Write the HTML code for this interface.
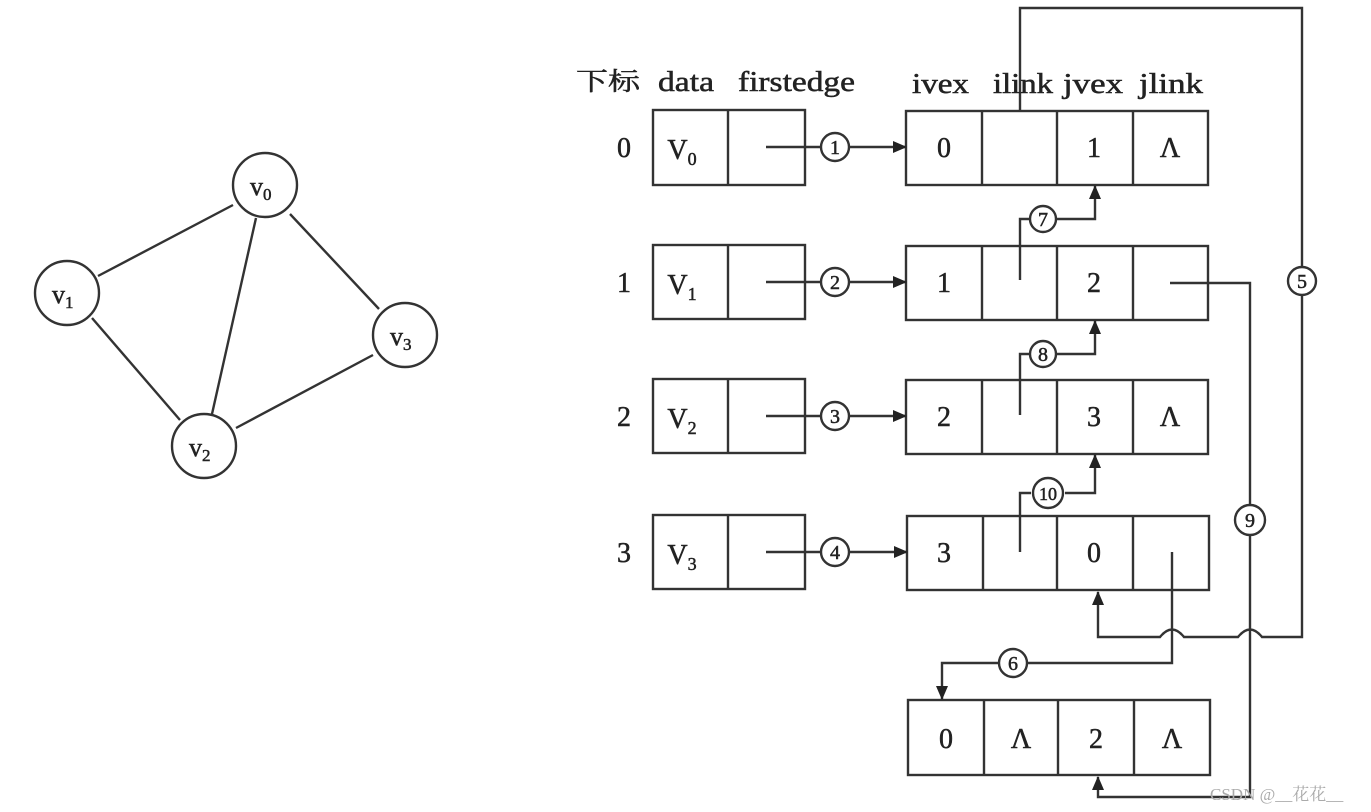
<!DOCTYPE html>
<html><head><meta charset="utf-8"><style>
html,body{margin:0;padding:0;background:#fff;}
svg{display:block;}
text{font-family:"Liberation Serif","Noto Serif CJK SC",serif;fill:#222;stroke:#222;stroke-width:0.5;}
</style></head><body>
<svg width="1371" height="812" viewBox="0 0 1371 812" xmlns="http://www.w3.org/2000/svg">
<defs>
<marker id="a" markerWidth="14" markerHeight="14" refX="13" refY="6" orient="auto" markerUnits="userSpaceOnUse" viewBox="0 0 14 12"><path d="M0,0 L14,6 L0,12z" fill="#222"/></marker>
</defs>
<g stroke="#333" stroke-width="2.4" fill="none">
<line x1="233" y1="205" x2="98" y2="276"/>
<line x1="256" y1="218" x2="212" y2="414"/>
<line x1="290" y1="214" x2="379" y2="309"/>
<line x1="92" y1="318" x2="180" y2="420"/>
<line x1="236" y1="428" x2="373" y2="355"/>
<circle cx="265" cy="185" r="32"/>
<circle cx="67" cy="293" r="32"/>
<circle cx="405" cy="335" r="32"/>
<circle cx="204" cy="446" r="32"/>
<rect x="653" y="110" width="152" height="75"/><line x1="728" y1="110" x2="728" y2="185"/>
<rect x="653" y="245" width="152" height="74"/><line x1="728" y1="245" x2="728" y2="319"/>
<rect x="653" y="379" width="152" height="74"/><line x1="728" y1="379" x2="728" y2="453"/>
<rect x="653" y="515" width="152" height="74"/><line x1="728" y1="515" x2="728" y2="589"/>
<rect x="906" y="111" width="302" height="74"/><line x1="982" y1="111" x2="982" y2="185"/><line x1="1057" y1="111" x2="1057" y2="185"/><line x1="1133" y1="111" x2="1133" y2="185"/>
<rect x="906" y="246" width="302" height="74"/><line x1="982" y1="246" x2="982" y2="320"/><line x1="1057" y1="246" x2="1057" y2="320"/><line x1="1133" y1="246" x2="1133" y2="320"/>
<rect x="906" y="380" width="302" height="74"/><line x1="982" y1="380" x2="982" y2="454"/><line x1="1057" y1="380" x2="1057" y2="454"/><line x1="1133" y1="380" x2="1133" y2="454"/>
<rect x="907" y="516" width="302" height="74"/><line x1="983" y1="516" x2="983" y2="590"/><line x1="1057" y1="516" x2="1057" y2="590"/><line x1="1133" y1="516" x2="1133" y2="590"/>
<rect x="908" y="700" width="302" height="75"/><line x1="984" y1="700" x2="984" y2="775"/><line x1="1058" y1="700" x2="1058" y2="775"/><line x1="1134" y1="700" x2="1134" y2="775"/>
<line x1="766" y1="147" x2="821" y2="147"/><line x1="849" y1="147" x2="906" y2="147" marker-end="url(#a)"/>
<line x1="766" y1="282" x2="821" y2="282"/><line x1="849" y1="282" x2="906" y2="282" marker-end="url(#a)"/>
<line x1="766" y1="416" x2="821" y2="416"/><line x1="849" y1="416" x2="906" y2="416" marker-end="url(#a)"/>
<line x1="766" y1="552" x2="821" y2="552"/><line x1="849" y1="552" x2="907" y2="552" marker-end="url(#a)"/>
<circle cx="835" cy="147" r="14"/><circle cx="835" cy="282" r="14"/><circle cx="835" cy="416" r="14"/><circle cx="835" cy="552" r="14"/>
<polyline points="1020,280 1020,219 1029,219"/><polyline points="1057,219 1095,219 1095,186" marker-end="url(#a)"/><circle cx="1043" cy="219" r="13"/>
<polyline points="1020,415 1020,354 1029,354"/><polyline points="1057,354 1095,354 1095,321" marker-end="url(#a)"/><circle cx="1043" cy="354" r="13"/>
<polyline points="1020,552 1020,493 1031,493"/><polyline points="1065,493 1095,493 1095,455" marker-end="url(#a)"/><circle cx="1048" cy="493" r="15"/>
<polyline points="1020,111 1020,8 1302,8 1302,267"/>
<path d="M1302,296 L1302,637 L1262,637 Q1250,622 1238,637 L1184,637 Q1172,622 1160,637 L1098,637 L1098,592" marker-end="url(#a)"/>
<circle cx="1302" cy="281" r="14"/>
<polyline points="1170,283 1250,283 1250,505"/>
<path d="M1250,535 L1250,797 L1098,797 L1098,777" marker-end="url(#a)"/>
<circle cx="1250" cy="520" r="15"/>
<polyline points="1172,552 1172,663 1027,663"/>
<path d="M999,663 L942,663 L942,699" marker-end="url(#a)"/>
<circle cx="1013" cy="663" r="14"/>
</g>
<g font-size="26">
<text x="250" y="195">v<tspan font-size="17" dy="5">0</tspan></text>
<text x="52" y="303">v<tspan font-size="17" dy="5">1</tspan></text>
<text x="390" y="345">v<tspan font-size="17" dy="5">3</tspan></text>
<text x="189" y="456">v<tspan font-size="17" dy="5">2</tspan></text>
</g>
<g font-size="28">
<text x="576" y="90" font-size="25" textLength="64" lengthAdjust="spacingAndGlyphs">下标</text>
<text x="658" y="91" textLength="56" lengthAdjust="spacingAndGlyphs">data</text>
<text x="738" y="91" textLength="117" lengthAdjust="spacingAndGlyphs">firstedge</text>
<text x="912" y="93" textLength="57" lengthAdjust="spacingAndGlyphs">ivex</text>
<text x="993" y="93" textLength="60" lengthAdjust="spacingAndGlyphs">ilink</text>
<text x="1063" y="93" textLength="60" lengthAdjust="spacingAndGlyphs">jvex</text>
<text x="1139" y="93" textLength="64" lengthAdjust="spacingAndGlyphs">jlink</text>
</g>
<g font-size="28" text-anchor="middle">
<text x="624" y="157">0</text><text x="624" y="292">1</text><text x="624" y="426">2</text><text x="624" y="562">3</text>
<text x="682" y="159">V<tspan font-size="18" dy="6">0</tspan></text>
<text x="682" y="294">V<tspan font-size="18" dy="6">1</tspan></text>
<text x="682" y="428">V<tspan font-size="18" dy="6">2</tspan></text>
<text x="682" y="564">V<tspan font-size="18" dy="6">3</tspan></text>
<text x="944" y="157">0</text><text x="1094" y="157">1</text><text x="1170" y="157">Λ</text>
<text x="944" y="292">1</text><text x="1094" y="292">2</text>
<text x="944" y="426">2</text><text x="1094" y="426">3</text><text x="1170" y="426">Λ</text>
<text x="944" y="562">3</text><text x="1094" y="562">0</text>
<text x="946" y="748">0</text><text x="1021" y="748">Λ</text><text x="1096" y="748">2</text><text x="1172" y="748">Λ</text>
</g>
<g font-size="20" text-anchor="middle">
<text x="835" y="154">1</text><text x="835" y="289">2</text><text x="835" y="423">3</text><text x="835" y="559">4</text>
<text x="1043" y="226">7</text><text x="1043" y="361">8</text><text x="1048" y="500" font-size="18">10</text>
<text x="1302" y="288">5</text><text x="1250" y="527">9</text><text x="1013" y="670">6</text>
</g>
<text x="1210" y="800" font-family="Liberation Sans, Noto Sans CJK SC, sans-serif" font-size="17" style="fill:#aaa;stroke:none">CSDN @__花花__</text>
</svg>
</body></html>
